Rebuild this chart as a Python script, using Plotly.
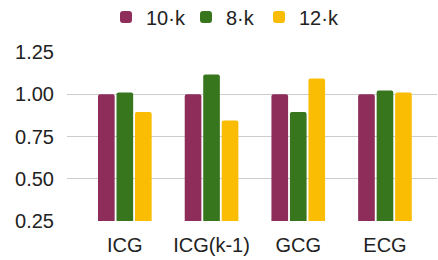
import plotly.graph_objects as go

categories = ["ICG", "ICG(k-1)", "GCG", "ECG"]
series_names = ["10·k", "8·k", "12·k"]
vals_10k = [1.00, 1.00, 1.00, 1.00]
vals_8k = [1.01, 1.117, 0.895, 1.022]
vals_12k = [0.895, 0.845, 1.093, 1.01]
colors = ["#8E2C5A", "#38761D", "#FBBC04"]
y_ticks = [0.25, 0.50, 0.75, 1.00, 1.25]

legend_ids = ["legend", "legend2", "legend3"]
legend_x_px = [106, 186, 259]

fig = go.Figure()
for name, vals, col, lid in zip(series_names, [vals_10k, vals_8k, vals_12k], colors, legend_ids):
    fig.add_trace(go.Bar(x=list(range(len(categories))), y=vals, name=name, legend=lid,
                         marker=dict(color=col, line=dict(width=0))))

fig.update_layout(
    width=438, height=260,
    margin=dict(l=67, r=1, t=52, b=39, autoexpand=False),
    paper_bgcolor="white", plot_bgcolor="white",
    barmode="group", bargap=0.36, bargroupgap=0.1, barcornerradius=2,
    font=dict(family="Liberation Sans, Arial", size=20, color="#222222"),
    showlegend=True,
)
for lid, xp in zip(legend_ids, legend_x_px):
    fig.update_layout({lid: dict(orientation="h", x=xp / 438, xanchor="left",
                                 y=1 - 17 / 260, yanchor="middle",
                                 xref="container", yref="container",
                                 font=dict(size=20), itemclick=False)})
fig.update_xaxes(range=[-0.667, 3.6], tickmode="array",
                 tickvals=list(range(len(categories))), ticktext=categories,
                 showgrid=False, zeroline=False, showline=False,
                 ticks="outside", ticklen=6, tickcolor="rgba(0,0,0,0)")
fig.update_yaxes(range=[0.25, 1.25], tickmode="array", tickvals=y_ticks,
                 ticktext=[f"{v:.2f}" for v in y_ticks],
                 showgrid=True, gridcolor="#CCCCCC", gridwidth=1,
                 zeroline=False, showline=False,
                 ticks="outside", ticklen=8, tickcolor="rgba(0,0,0,0)")

fig.write_html("out.html", config={"displayModeBar": False},
               post_script="document.body.style.margin='0';document.body.style.overflow='hidden';")
